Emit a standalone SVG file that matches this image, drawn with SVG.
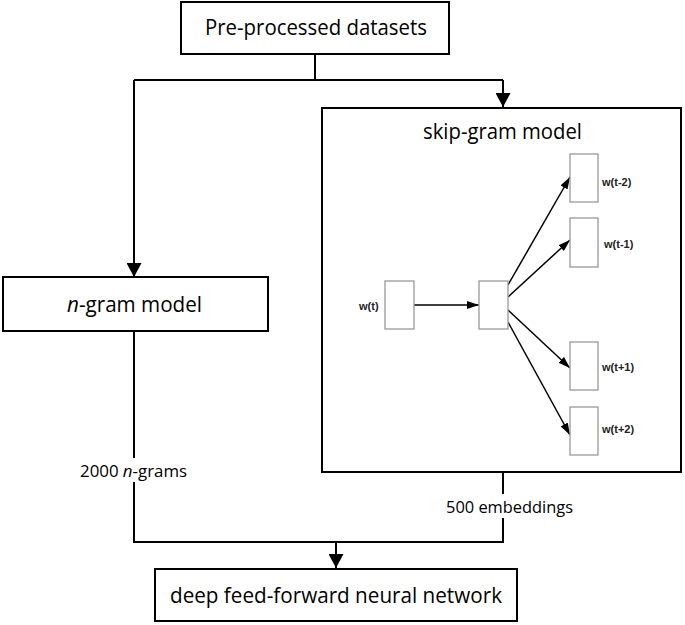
<svg xmlns="http://www.w3.org/2000/svg" width="685" height="625" viewBox="0 0 685 625">
<style>
.box{fill:#fff;stroke:#000;stroke-width:2}
.sbox{fill:#fff;stroke:#999;stroke-width:1.3}
.t{font-family:"Open Sans","Liberation Sans",sans-serif;fill:#000}
.big{font-size:21px}
.mid{font-size:16px}
.s{font-family:"Liberation Sans",Arial,sans-serif;font-weight:bold;font-size:11px;fill:#222}
.ln{fill:none;stroke:#000;stroke-width:2}
.thin{fill:none;stroke:#000;stroke-width:1.5}
</style>
<defs>
<marker id="ah" markerWidth="14" markerHeight="15" refX="14" refY="7.5" orient="auto" markerUnits="userSpaceOnUse" viewBox="0 0 14 15">
<path d="M0,0 L14,7.5 L0,15 Z" fill="#000"/>
</marker>
<marker id="sh" markerWidth="12" markerHeight="8" refX="12" refY="4" orient="auto" markerUnits="userSpaceOnUse" viewBox="0 0 12 8">
<path d="M0,0 L12,4 L0,8 Z" fill="#000"/>
</marker>
</defs>
<g id="connectors">
<path class="ln" d="M315,54 V80"/>
<path class="ln" d="M134,80 H503"/>
<path class="ln" d="M134,80 V277" marker-end="url(#ah)"/>
<path class="ln" d="M503,80 V107" marker-end="url(#ah)"/>
<path class="ln" d="M134,331 V458"/>
<path class="ln" d="M134,482 V542 H503 V518"/>
<path class="ln" d="M503,494 V472"/>
<path class="ln" d="M336,542 V568" marker-end="url(#ah)"/>
</g>
<g id="pre-processed">
<rect class="box" x="181" y="2" width="268" height="52"/>
<text class="t big" x="316" y="35" text-anchor="middle" textLength="222" lengthAdjust="spacingAndGlyphs">Pre-processed datasets</text>
</g>
<g id="ngram">
<rect class="box" x="3" y="277" width="265" height="54"/>
<text class="t big" x="134.5" y="312" text-anchor="middle" textLength="135" lengthAdjust="spacingAndGlyphs"><tspan font-style="italic">n</tspan>-gram model</text>
</g>
<g id="skipgram">
<rect class="box" x="322" y="108" width="359" height="364"/>
<text class="t big" x="502.5" y="139" text-anchor="middle" textLength="159" lengthAdjust="spacingAndGlyphs">skip-gram model</text>
<g id="sg-connectors">
<path class="thin" d="M414,305 H479" marker-end="url(#sh)"/>
<path class="thin" d="M508,285 L570,177" marker-end="url(#sh)"/>
<path class="thin" d="M508,297 L570,240" marker-end="url(#sh)"/>
<path class="thin" d="M508,310 L570,368" marker-end="url(#sh)"/>
<path class="thin" d="M508,322 L570,435" marker-end="url(#sh)"/>
</g>
<g id="wt"><rect class="sbox" x="385" y="281" width="29" height="48"/><text class="s" x="359" y="310">w(t)</text></g>
<g id="hidden"><rect class="sbox" x="479" y="281" width="29" height="48"/></g>
<g id="wtm2"><rect class="sbox" x="570" y="154" width="28" height="48"/><text class="s" x="602" y="186">w(t-2)</text></g>
<g id="wtm1"><rect class="sbox" x="570" y="218" width="28" height="49"/><text class="s" x="604" y="248">w(t-1)</text></g>
<g id="wtp1"><rect class="sbox" x="570" y="342" width="28" height="48"/><text class="s" x="602" y="371">w(t+1)</text></g>
<g id="wtp2"><rect class="sbox" x="570" y="407" width="28" height="48"/><text class="s" x="602" y="433">w(t+2)</text></g>
</g>
<g id="labels">
<text class="t mid" x="80" y="477" textLength="107" lengthAdjust="spacingAndGlyphs">2000 <tspan font-style="italic">n</tspan>-grams</text>
<text class="t mid" x="446" y="513" textLength="127" lengthAdjust="spacingAndGlyphs">500 embeddings</text>
</g>
<g id="dnn">
<rect class="box" x="155" y="569" width="362" height="52"/>
<text class="t big" x="336" y="603" text-anchor="middle" textLength="332" lengthAdjust="spacingAndGlyphs">deep feed-forward neural network</text>
</g>
</svg>
